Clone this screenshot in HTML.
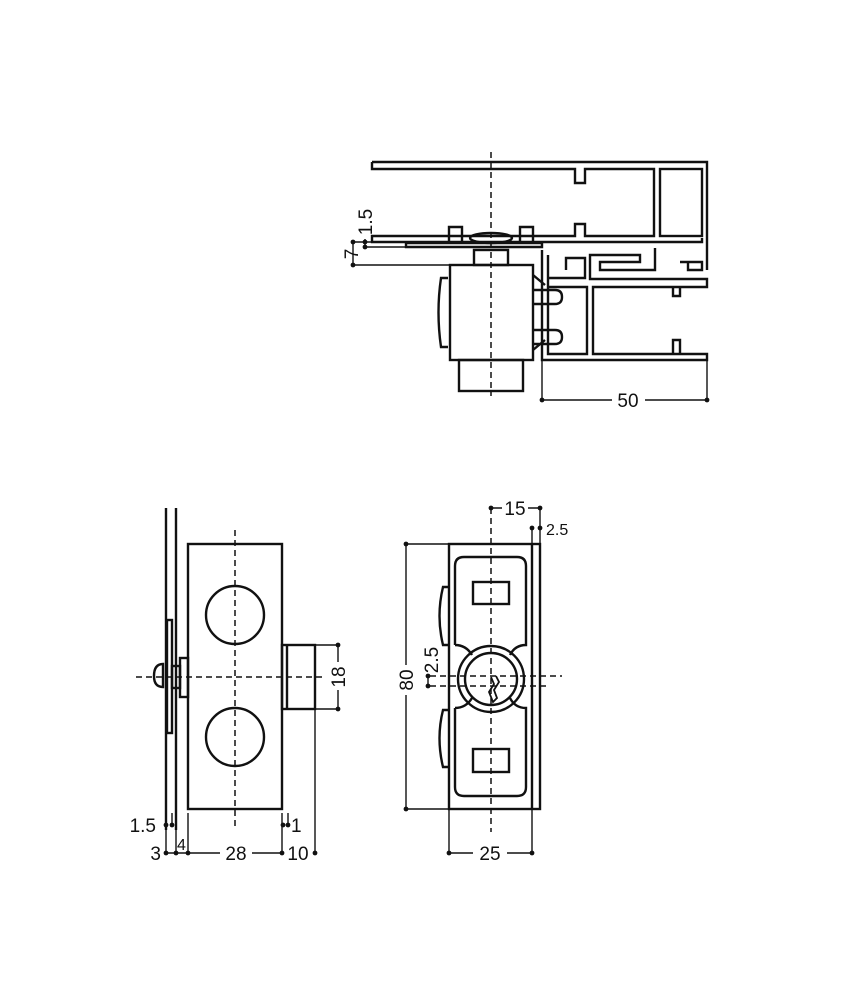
<!DOCTYPE html>
<html><head><style>
html,body{margin:0;padding:0;background:#fff}
text{font-family:"Liberation Sans",sans-serif;fill:#111}
</style></head><body>
<svg width="850" height="1000" viewBox="0 0 850 1000" xmlns="http://www.w3.org/2000/svg">
<g fill="none" stroke="#111" stroke-width="2.4">
<path d="M372,162 H707 V270 M372,162 V169 H575 V183 H585 V169 H654 V236 H585 V224 H575 V236 H372 V242 H702 V238"/>
<rect x="660" y="169" width="42" height="67"/>
<path d="M406,243 H542 V247 H406 Z"/>
<path d="M449,242 V227 H462 V242 M520,242 V227 H533 V242"/>
<ellipse cx="491" cy="238" rx="21" ry="5"/>
<rect x="474" y="250" width="34" height="15"/>
<rect x="450" y="265" width="83" height="95"/>
<rect x="459" y="360" width="64" height="31"/>
<path d="M448,278 H441 Q436,312 441,347 H448"/>
<path d="M533,275 L545,285 M533,350 L545,340 M533,290 H555 Q562,290 562,297 Q562,304 555,304 H533 M533,330 H555 Q562,330 562,337 Q562,344 555,344 H533"/>
<path d="M542,250 V360 H707 V354 H593 V287 H707 V279 H590 V255 H640 V262 H600 V270 H655 V248"/>
<path d="M548,255 V354 H587 V287 H548 M548,278 H585 V258 H566 V270"/>
<path d="M680,262 H702 V270 H688 V262"/>
<path d="M673,287 V296 H680 V287 M673,354 V340 H680 V354"/>
<path d="M166,508 V830 M176,508 V830"/>
<rect x="167" y="620" width="5" height="113"/>
<path d="M163,664 Q154,664 154,676 Q154,687 163,687 Z"/>
<rect x="172" y="666" width="8" height="22"/>
<rect x="180" y="658" width="8" height="39"/>
<rect x="188" y="544" width="94" height="265"/>
<circle cx="235" cy="615" r="29"/>
<circle cx="235" cy="737" r="29"/>
<rect x="282" y="645" width="33" height="64"/>
<path d="M287,645 V709"/>
<rect x="449" y="544" width="91" height="265"/>
<path d="M532,544 V809"/>
<path d="M455,645 V566 Q455,557 464,557 H517 Q526,557 526,566 V645 Q515,645 510,655 M455,645 Q466,645 472,655"/>
<path d="M455,708 V787 Q455,796 464,796 H517 Q526,796 526,787 V708 Q515,708 510,698 M455,708 Q466,708 472,698"/>
<circle cx="491" cy="679" r="33"/>
<circle cx="491" cy="679" r="26"/>
<path d="M491,677 L494,684 L489,692 L493,702 L497,698 L494,690 L499,682 L496,676" stroke-width="1.8"/>
<rect x="473" y="582" width="36" height="22"/>
<rect x="473" y="749" width="36" height="23"/>
<path d="M449,587 H443 Q436,616 443,645 H449 M449,710 H443 Q436,738 443,767 H449"/>
</g>
<g stroke="#111" stroke-width="1.5" stroke-dasharray="6,4" fill="none">
<path d="M491,152 V396"/>
<path d="M235,530 V830 M136,677 H326"/>
<path d="M491,508 V832 M430,676 H562 M430,686 H550"/>
</g>
<g stroke="#111" stroke-width="1.4" fill="none">
<path d="M542,360 V400 M707,360 V400 M542,400 H612 M645,400 H707"/>
<path d="M353,242 H372 M365,247 H406 M353,265 H450 M353,242 V265 M365,239 V247"/>
<path d="M315,645 H338 M315,709 H338 M338,645 V662 M338,690 V709"/>
<path d="M166,813 V853 M172,813 V825 M188,813 V853 M282,813 V853 M288,813 V825 M315,709 V853 M176,830 V853"/>
<path d="M166,853 H188 M188,853 H220 M252,853 H282"/>
<path d="M406,544 H449 M406,809 H449 M406,544 V665 M406,695 V809"/>
<path d="M491,508 H502 M528,508 H540 M540,508 V544 M532,528 V544 M428,676 V686"/>
<path d="M449,809 V853 M532,809 V853 M449,853 H473 M507,853 H532"/>
</g>
<g fill="#111">
<circle cx="542" cy="400" r="2.4"/><circle cx="707" cy="400" r="2.4"/>
<circle cx="353" cy="242" r="2.4"/><circle cx="353" cy="265" r="2.4"/><circle cx="365" cy="242" r="2.4"/><circle cx="365" cy="247" r="2.4"/>
<circle cx="338" cy="645" r="2.4"/><circle cx="338" cy="709" r="2.4"/>
<circle cx="166" cy="825" r="2.4"/><circle cx="172" cy="825" r="2.4"/><circle cx="283" cy="825" r="2.4"/><circle cx="288" cy="825" r="2.4"/>
<circle cx="166" cy="853" r="2.4"/><circle cx="176" cy="853" r="2.4"/><circle cx="188" cy="853" r="2.4"/><circle cx="282" cy="853" r="2.4"/><circle cx="315" cy="853" r="2.4"/>
<circle cx="406" cy="544" r="2.4"/><circle cx="406" cy="809" r="2.4"/>
<circle cx="491" cy="508" r="2.4"/><circle cx="540" cy="508" r="2.4"/><circle cx="532" cy="528" r="2.4"/><circle cx="540" cy="528" r="2.4"/>
<circle cx="428" cy="676" r="2.4"/><circle cx="428" cy="686" r="2.4"/>
<circle cx="449" cy="853" r="2.4"/><circle cx="532" cy="853" r="2.4"/>
</g>
<g font-size="19">
<text x="628" y="407" text-anchor="middle">50</text>
<text transform="translate(372,222) rotate(-90)" text-anchor="middle">1.5</text>
<text transform="translate(358,254) rotate(-90)" text-anchor="middle">7</text>
<text transform="translate(345,677) rotate(-90)" text-anchor="middle">18</text>
<text x="156" y="832" text-anchor="end">1.5</text>
<text x="291" y="832">1</text>
<text x="161" y="860" text-anchor="end">3</text>
<text x="177" y="850" font-size="16">4</text>
<text x="236" y="860" text-anchor="middle">28</text>
<text x="298" y="860" text-anchor="middle">10</text>
<text transform="translate(413,680) rotate(-90)" text-anchor="middle">80</text>
<text transform="translate(438,660) rotate(-90)" text-anchor="middle">2.5</text>
<text x="515" y="515" text-anchor="middle">15</text>
<text x="546" y="535" font-size="16">2.5</text>
<text x="490" y="860" text-anchor="middle">25</text>
</g>
</svg>
</body></html>
